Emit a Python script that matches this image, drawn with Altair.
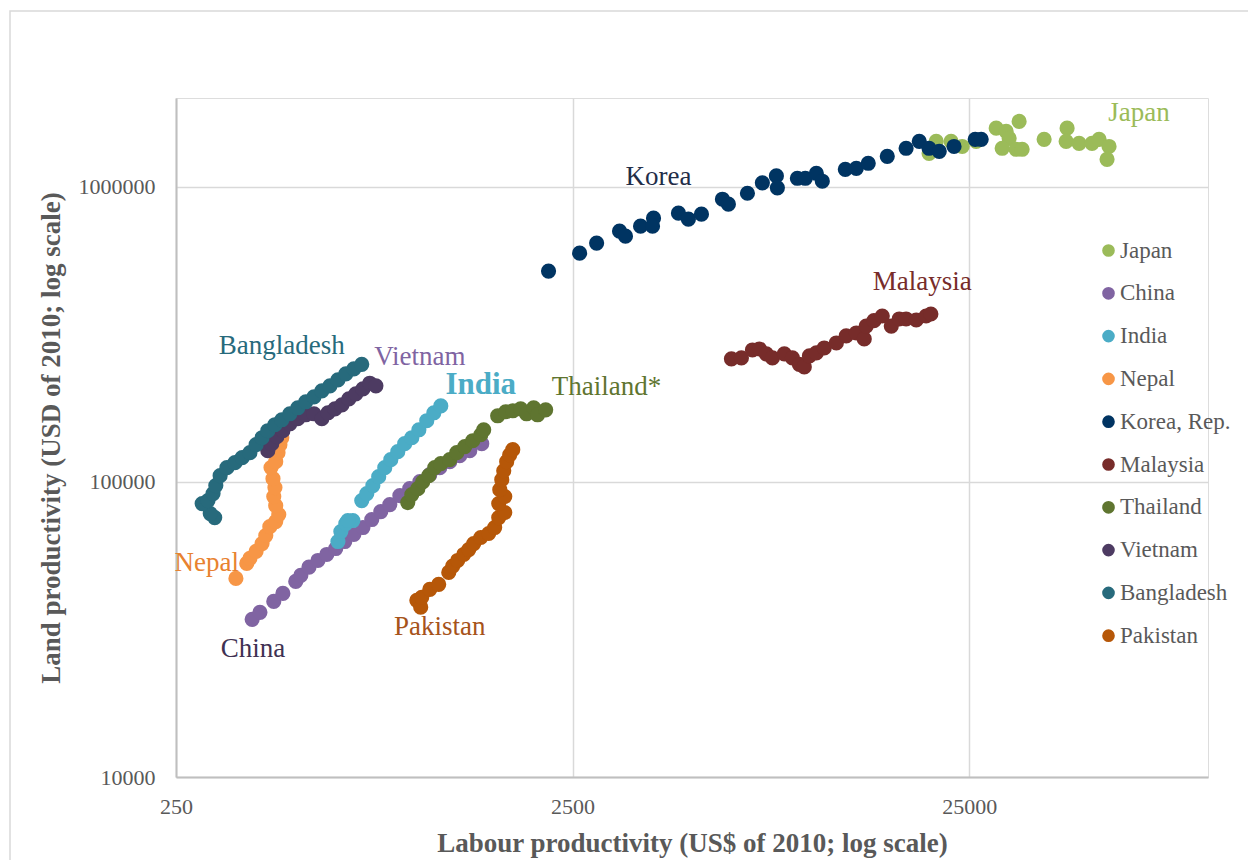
import altair as alt
import pandas as pd

FONT = "Liberation Serif"
GREY = "#595959"

SERIES = ["Japan", "China", "India", "Nepal", "Korea, Rep.", "Malaysia",
          "Thailand", "Vietnam", "Bangladesh", "Pakistan"]
COLORS = ["#9BBB59", "#8064A2", "#4BACC6", "#F79646", "#003462", "#772C2A",
          "#5F7530", "#4D3B62", "#276A7C", "#B65708"]

JAPAN_X = [19800, 20640, 22500, 24000, 26030, 29240, 30980, 33400, 31520, 30270,
           32830, 33990, 38620, 44130, 43880, 47310, 51000, 53130, 56300, 55650]
JAPAN_Y = [1299000, 1426000, 1426000, 1370000, 1426000, 1580000, 1541000, 1666000,
           1459800, 1351000, 1340600, 1340600, 1448500, 1580000, 1426000, 1404000,
           1404000, 1448500, 1370000, 1239600]

CHINA_X = [389, 407, 441, 465, 501, 516, 541, 570, 600, 632, 666, 702, 740, 779,
           821, 865, 917, 971, 1030, 1091, 1156, 1225, 1298, 1376, 1475]
CHINA_Y = [34220, 36140, 39370, 41900, 46000, 48200, 51400, 54170, 56770, 59470,
           62810, 66340, 70050, 74560, 79350, 83800, 89870, 94870, 100200, 105840,
           111770, 117100, 122700, 127600, 134750]

INDIA_X = [640, 651, 670, 698, 678, 735, 757, 784, 811, 840, 870, 906, 943, 983,
           1024, 1072, 1117, 1163]
INDIA_Y = [62810, 67900, 72260, 73980, 73980, 86450, 91290, 97150, 104200, 111770,
           118950, 126600, 134750, 141180, 150200, 161200, 171510, 180900]

NEPAL_X = [354, 377, 384, 398, 412, 421, 431, 446, 454, 446, 441, 444, 439, 434,
           446, 452, 457, 462]
NEPAL_Y = [47100, 52930, 55030, 58190, 61820, 65820, 70520, 73400, 77510, 83160,
           89180, 95700, 102600, 111800, 117100, 125620, 133700, 141180]

KOREA_X = [2174, 2604, 2874, 3283, 3398, 3709, 3999, 3976, 4622, 4896, 5282, 5966,
           6176, 6898, 7523, 8161, 8208, 9218, 9653, 10292, 10654, 12176, 12980,
           13910, 15535, 17330, 18706, 19800, 21007, 22890, 25884, 26800]
KOREA_Y = [518100, 596000, 644600, 707500, 680600, 735800, 782980, 735800, 814000,
           776900, 807800, 907900, 873300, 951100, 1031600, 1089200, 992300,
           1069100, 1069100, 1111500, 1044600, 1146000, 1155000, 1201800, 1268900,
           1351000, 1426000, 1351000, 1319100, 1370000, 1448500, 1448500]

MALAYSIA_X = [6286, 6661, 7102, 7395, 7697, 7975, 8546, 8956, 9325, 9596, 9886,
              10292, 10776, 11559, 12241, 12980, 13591, 13745, 14380, 15089, 15902,
              16655, 17330, 18383, 19460, 20010]
MALAYSIA_Y = [261200, 263220, 280000, 282200, 271500, 263220, 271500, 263220,
              250300, 245300, 267300, 273600, 284400, 295700, 312400, 319700,
              305200, 337400, 352000, 365000, 337400, 356600, 356600, 353800,
              365000, 370700]

THAILAND_X = [960, 983, 1018, 1047, 1085, 1123, 1163, 1225, 1276, 1337, 1400, 1467,
              1492, 1618, 1695, 1766, 1849, 1914, 1994, 2040, 2138]
THAILAND_Y = [85120, 90570, 94870, 100000, 105020, 111800, 115330, 118950, 125620,
              131720, 137920, 144500, 150200, 167550, 172860, 174200, 176810,
              170200, 178330, 168860, 175500]

VIETNAM_X = [426, 436, 449, 465, 484, 507, 531, 557, 583, 604, 629, 655, 682, 710,
             740, 770, 798]
VIETNAM_Y = [127600, 134750, 142280, 149090, 157400, 163700, 168860, 170200, 163700,
             171510, 176810, 182400, 191280, 198840, 206600, 216000, 211640]

BANGLADESH_X = [313, 305, 291, 301, 310, 315, 323, 336, 352, 367, 384, 398, 412,
                426, 444, 462, 484, 507, 531, 557, 583, 611, 640, 670, 702, 735]
BANGLADESH_Y = [75730, 78130, 84450, 86450, 91290, 97150, 105020, 111770, 116200,
                120820, 125620, 133700, 141180, 149090, 156230, 162400, 170200,
                178330, 186880, 194270, 203560, 211640, 221700, 232400, 241500,
                250300]

PAKISTAN_X = [1012, 1035, 1041, 1091, 1149, 1218, 1246, 1283, 1329, 1368, 1408,
              1467, 1536, 1590, 1628, 1686, 1628, 1686, 1638, 1657, 1676, 1705,
              1735, 1766]
PAKISTAN_Y = [39680, 37620, 40617, 43220, 44980, 49340, 51820, 54170, 56770, 59000,
              61820, 64806, 66860, 70050, 75727, 78730, 84450, 89180, 94140, 101800,
              109100, 117100, 123600, 128600]

SERIES_DATA = [
    (JAPAN_X, JAPAN_Y), (CHINA_X, CHINA_Y), (INDIA_X, INDIA_Y), (NEPAL_X, NEPAL_Y),
    (KOREA_X, KOREA_Y), (MALAYSIA_X, MALAYSIA_Y), (THAILAND_X, THAILAND_Y),
    (VIETNAM_X, VIETNAM_Y), (BANGLADESH_X, BANGLADESH_Y), (PAKISTAN_X, PAKISTAN_Y),
]

LABELS = ["Japan", "Korea", "Malaysia", "Thailand*", "Vietnam", "Bangladesh",
          "Nepal", "Pakistan", "China"]
LABEL_X = [67000, 4117, 19030, 3045, 1030, 462, 299, 1156, 391]
LABEL_Y = [1774000, 1080800, 475700, 210300, 265300, 289000, 52930, 32200, 27100]
LABEL_COLORS = ["#9BBB59", "#1F2D48", "#772C2A", "#5F7530", "#7F64A2", "#276A7C",
                "#E8822F", "#A6531A", "#403152"]

INDIA_LABEL = ["India"]
INDIA_LABEL_X = [1467]
INDIA_LABEL_Y = [213300]

X_TICKS = [250, 2500, 25000]
Y_TICKS = [10000, 100000, 1000000]

rows = []
for name, (xs, ys) in zip(SERIES, SERIES_DATA):
    for xv, yv in zip(xs, ys):
        rows.append({"country": name, "x": xv, "y": yv})
df = pd.DataFrame(rows)
df["order"] = range(len(df))

xscale = alt.Scale(type="log", domain=[250, 100000], nice=False)
yscale = alt.Scale(type="log", domain=[10000, 2000000], nice=False)

xaxis = alt.Axis(values=X_TICKS, format="d", title="Labour productivity (US$ of 2010; log scale)",
                 grid=True, gridColor="#d9d9d9", gridWidth=1.5, domainColor="#bfbfbf",
                 domainWidth=2, ticks=False, labelFont=FONT, labelFontSize=22,
                 labelColor=GREY, labelPadding=19, labelFlush=False,
                 titleFont=FONT, titleFontSize=27, titleFontWeight="bold",
                 titleColor=GREY, titlePadding=13)
yaxis = alt.Axis(values=Y_TICKS, format="d", title="Land productivity (USD of 2010; log scale)",
                 grid=True, gridColor="#d9d9d9", gridWidth=1.5, domainColor="#bfbfbf",
                 domainWidth=2, ticks=False, labelFont=FONT, labelFontSize=22,
                 labelColor=GREY, labelPadding=21, labelFlush=False,
                 titleFont=FONT, titleFontSize=27, titleFontWeight="bold",
                 titleColor=GREY, titlePadding=13)

border = alt.Chart(pd.DataFrame({"a": [0]})).mark_rect(
    filled=False, stroke="#d9d9d9", strokeWidth=1.5
).encode(x=alt.value(-166), x2=alt.value(3000), y=alt.value(-87), y2=alt.value(3000))

points = alt.Chart(df).mark_circle(size=230, opacity=1).encode(
    x=alt.X("x:Q", scale=xscale, axis=xaxis),
    y=alt.Y("y:Q", scale=yscale, axis=yaxis),
    color=alt.Color("country:N", sort=SERIES,
                    scale=alt.Scale(domain=SERIES, range=COLORS),
                    legend=alt.Legend(orient="none", legendX=921, legendY=141, title=None,
                                      symbolType="circle", symbolSize=160,
                                      labelFont=FONT, labelFontSize=23, labelColor=GREY,
                                      rowPadding=18.8, symbolOpacity=1, symbolStrokeWidth=0,
                                      labelOffset=0, padding=0, labelLimit=300)),
    order=alt.Order("order:Q"),
)

lab_df = pd.DataFrame({"t": LABELS, "x": LABEL_X, "y": LABEL_Y, "c": LABEL_COLORS})
labels = alt.Chart(lab_df).mark_text(font=FONT, fontSize=27, align="center",
                                     baseline="middle").encode(
    x=alt.X("x:Q", scale=xscale), y=alt.Y("y:Q", scale=yscale),
    text="t:N", color=alt.Color("c:N", scale=None))

india_df = pd.DataFrame({"t": INDIA_LABEL, "x": INDIA_LABEL_X, "y": INDIA_LABEL_Y})
india = alt.Chart(india_df).mark_text(font=FONT, fontSize=31, fontWeight="bold",
                                      align="center", baseline="middle",
                                      color="#4BACC6").encode(
    x=alt.X("x:Q", scale=xscale), y=alt.Y("y:Q", scale=yscale), text="t:N")

chart = alt.layer(border, points, labels, india).properties(
    width=1032, height=679,
    autosize=alt.AutoSizeParams(type="none"),
    padding={"left": 168, "top": 90, "right": 40, "bottom": 83},
).configure_view(stroke=None).configure(background="white")

chart.save("out.html", embed_options={"renderer": "svg", "actions": False})
